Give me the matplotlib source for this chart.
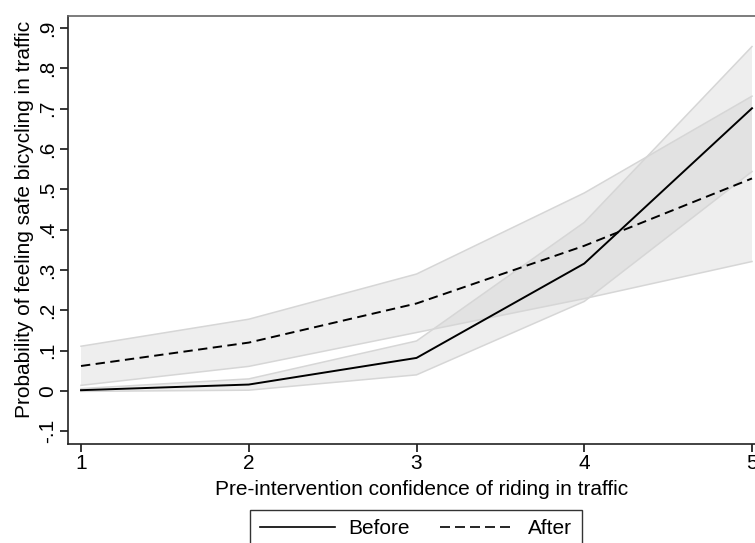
import matplotlib
matplotlib.use("Agg")
import matplotlib.pyplot as plt
from matplotlib.lines import Line2D

plt.rcParams['font.family'] = ['Liberation Sans', 'DejaVu Sans']

# Predicted probabilities with 95% confidence bands
confidence = [1, 2, 3, 4, 5]
before = [0.002, 0.016, 0.082, 0.316, 0.701]
before_lo = [-0.001, 0.002, 0.040, 0.222, 0.544]
before_hi = [0.006, 0.030, 0.124, 0.418, 0.854]
after = [0.062, 0.120, 0.217, 0.360, 0.527]
after_lo = [0.014, 0.061, 0.145, 0.229, 0.321]
after_hi = [0.111, 0.178, 0.290, 0.491, 0.731]

y_ticks = [-0.1, 0, 0.1, 0.2, 0.3, 0.4, 0.5, 0.6, 0.7, 0.8, 0.9]
y_tick_labels = ['-.1', '0', '.1', '.2', '.3', '.4', '.5', '.6', '.7', '.8', '.9']

FS = 15

W, H = 755, 543
fig = plt.figure(figsize=(W / 100, H / 100), dpi=100)
ax = fig.add_axes([68 / W, 1 - 444 / H, 1 - 68 / W, (444 - 15.7) / H])

band_fill = '#bfbfbf'
band_edge = '#d6d6d6'
for lo, hi in [(before_lo, before_hi), (after_lo, after_hi)]:
    ax.fill_between(confidence, lo, hi, facecolor=band_fill, alpha=0.25,
                    edgecolor='none', zorder=1)
    ax.plot(confidence, lo, color=band_edge, lw=1.1, zorder=2)
    ax.plot(confidence, hi, color=band_edge, lw=1.1, zorder=2)

ax.plot(confidence, before, color='black', lw=1.4, zorder=3,
        solid_joinstyle='miter')
ax.plot(confidence, after, color='black', lw=1.4, ls=(0, (4.8, 2.8)), zorder=3)

ax.set_xlim(1 - 13 / 167.75, 5 + 3 / 167.75)
ax.set_ylim(-53 / 403.3, 0.9 + 12.3 / 403.3)

ax.set_xticks(confidence)
ax.set_xticklabels([str(c) for c in confidence])
ax.set_yticks(y_ticks)
ax.set_yticklabels(y_tick_labels, rotation=90, va='center')

ax.tick_params(axis='both', direction='out', length=6, width=1.1,
               labelsize=FS, colors='black')
ax.tick_params(axis='y', pad=2)
ax.tick_params(axis='x', pad=1)

for side in ['left', 'bottom']:
    ax.spines[side].set_color('#222222')
    ax.spines[side].set_linewidth(1.2)
ax.spines['top'].set_color('#666666')
ax.spines['top'].set_linewidth(1.2)
ax.spines['right'].set_visible(False)

ax.set_xlabel('Pre-intervention confidence of riding in traffic',
              fontsize=FS, labelpad=5)
ax.set_ylabel('Probability of feeling safe bicycling in traffic',
              fontsize=FS, labelpad=3)
ax.xaxis.label.set_x(0.514)
ax.yaxis.label.set_y(0.525)

handles = [Line2D([], [], color='black', lw=1.2),
           Line2D([], [], color='black', lw=1.2, ls=(0, (6, 3)))]
leg = fig.legend(handles, ['Before', 'After'], loc='upper center',
                 bbox_to_anchor=(416 / W, 1 - 510 / H), ncol=2,
                 fontsize=FS, frameon=True, fancybox=False,
                 edgecolor='black', handlelength=3.6, columnspacing=1.45,
                 handletextpad=0.65, borderpad=0.45, borderaxespad=0)
leg.get_frame().set_linewidth(1.0)

fig.savefig('out.png', dpi=100, facecolor='white')
